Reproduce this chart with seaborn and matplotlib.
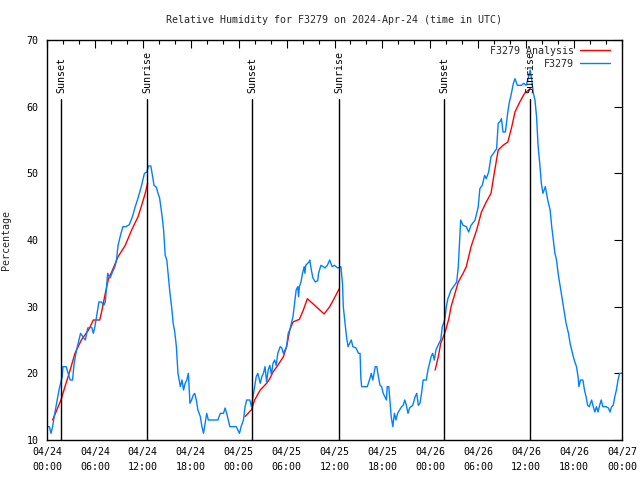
import matplotlib
matplotlib.use("Agg")
import matplotlib.pyplot as plt
import matplotlib.dates as mdates
from matplotlib.lines import Line2D
import numpy as np
import pandas as pd
import seaborn as sns

# ---------------- data (hours after 2024-04-24 00:00 UTC) ----------------
obs_hours = [0.0, 0.3, 0.5, 0.7, 0.9, 1.2, 1.5, 1.9, 2.0, 2.4, 2.9, 3.2, 3.4, 3.7, 4.0, 4.2, 4.6, 4.8,
             5.1, 5.6, 5.8, 6.0, 6.2, 6.5, 6.8, 7.1, 7.3, 7.6, 7.9, 8.2, 8.5, 8.7, 8.9, 9.2, 9.5, 9.9,
             10.3, 10.7, 11.0, 11.4, 11.8, 12.2, 12.5, 12.7, 13.0, 13.2, 13.4, 13.7, 13.9, 14.1, 14.4,
             14.6, 14.8, 15.0, 15.2, 15.4, 15.6, 15.8, 16.0, 16.2, 16.4, 16.7, 16.9, 17.1, 17.3, 17.5,
             17.7, 17.9, 18.1, 18.3, 18.5, 18.7, 18.9, 19.2, 19.4, 19.6, 19.8, 20.0, 20.2, 21.4, 21.7,
             22.1, 22.3, 22.5, 22.7, 22.9, 23.7, 23.9, 24.1, 24.3, 24.6, 24.8, 25.0, 25.4, 25.6, 25.8,
             26.0, 26.2, 26.4, 26.7, 26.9, 27.1, 27.3, 27.5, 27.7, 27.9, 28.1, 28.3, 28.5, 28.7, 28.9,
             29.2, 29.4, 29.6, 29.8, 30.0, 30.2, 30.4, 30.6, 30.8, 31.0, 31.2, 31.4, 31.5, 31.6, 31.8,
             32.0, 32.2, 32.3, 32.4, 32.8, 32.9, 33.1, 33.3, 33.6, 33.9, 34.0, 34.3, 34.6, 34.8, 35.1,
             35.4, 35.7, 36.0, 36.4, 36.8, 37.0, 37.1, 37.3, 37.5, 37.7, 37.9, 38.1, 38.3, 38.7, 39.0,
             39.2, 39.3, 39.4, 40.1, 40.3, 40.5, 40.6, 40.8, 41.1, 41.3, 41.5, 41.7, 41.9, 42.1, 42.3,
             42.5, 42.6, 42.8, 43.0, 43.1, 43.3, 43.5, 43.7, 43.9, 44.4, 44.6, 44.8, 45.0, 45.2, 45.4,
             45.6, 45.8, 46.1, 46.3, 46.5, 46.7, 46.9, 47.1, 47.5, 47.7, 47.9, 48.1, 48.3, 48.5, 48.7,
             49.0, 49.3, 49.5, 49.8, 50.0, 50.2, 50.6, 50.9, 51.3, 51.5, 51.7, 51.8, 52.1, 52.5, 52.8,
             53.1, 53.6, 54.0, 54.2, 54.5, 54.8, 55.0, 55.3, 55.6, 55.9, 56.3, 56.5, 56.7, 56.9, 57.1,
             57.4, 57.7, 57.9, 58.1, 58.4, 58.6, 58.9, 59.4, 59.7, 60.0, 60.3, 60.5, 60.7, 60.9, 61.1,
             61.3, 61.5, 61.7, 61.9, 62.1, 62.4, 62.7, 63.0, 63.2, 63.4, 63.6, 63.8, 64.0, 64.2, 64.4,
             64.6, 64.8, 65.0, 65.3, 65.5, 65.7, 65.9, 66.1, 66.3, 66.5, 66.6, 66.8, 67.1, 67.3, 67.5,
             67.7, 67.9, 68.2, 68.4, 68.6, 68.8, 69.0, 69.2, 69.4, 69.6, 70.0, 70.3, 70.5, 70.7, 70.9,
             71.1, 71.3, 71.5, 71.7, 72.0]
obs_rh = [12, 12, 11, 12, 13.5, 15.5, 17.5, 19.5, 21, 21, 19, 19, 21.5, 23.5, 25, 26, 25.3, 25,
          26.8, 26.9, 26, 27, 28.5, 30.7, 30.7, 30.2, 30.7, 35, 34.3, 35.2, 36, 37, 39.2, 40.7, 42, 42,
          42.3, 43.5, 44.8, 46.3, 48, 50, 50.2, 51.1, 51.1, 49.7, 48.2, 47.9, 47, 46.3, 43.7,
          41.5, 37.7, 37, 34.5, 32, 30, 27.5, 26.2, 24, 20, 18, 19, 17.5, 18.5, 19,
          20, 15.5, 16, 16.7, 17, 16, 14.5, 13.5, 12, 11, 12.5, 14, 13, 13, 14,
          14, 14.8, 14, 13, 12, 12, 11.5, 11, 12, 13, 15, 16, 16, 15, 16.5,
          18, 19.5, 20, 18.5, 19.5, 20, 21, 18.7, 20.5, 21.2, 19.8, 21.5, 22, 21.2, 23,
          24, 23.8, 23, 23.5, 24, 26, 26.5, 27.5, 28.5, 30.5, 32.5, 33, 31.5, 33, 33.7,
          35, 36, 35, 36.2, 36.7, 37, 35.5, 34.3, 33.7, 33.9, 35, 36.2, 36, 35.8, 36.2,
          37, 36, 36.2, 35.8, 36, 33.5, 30, 27.7, 25.5, 24, 24.5, 25, 24, 23.8, 23,
          23, 19.3, 18, 18, 18.7, 19.5, 20, 19, 21, 21, 19.5, 18.2, 18, 17, 16.5,
          16, 18, 18, 15, 13.5, 12, 14, 13, 14, 15, 15.2, 16, 15.2, 14, 14.8,
          15, 15.2, 16.5, 17, 15.2, 15.5, 17, 19, 19, 20.5, 21.5, 22.5, 23, 22, 23.5,
          24.3, 25, 27, 28, 30, 31.2, 32.5, 33, 33.7, 36, 40.5, 43, 42.2, 42, 41.2,
          42.2, 43, 45, 47.7, 48.2, 49.7, 49.2, 50.2, 52.5, 53, 53.7, 57.5, 57.7, 58.2, 56.2,
          56.2, 59.2, 60.7, 61.7, 63.5, 64.2, 63.2, 63.2, 63.5, 63.2, 64.5, 65.5, 64, 62, 61,
          58.5, 54, 51.5, 48.5, 47, 48, 46, 44.5, 42, 40, 38, 37, 35, 33.5, 32,
          30.5, 29, 27.5, 26, 24.5, 23.5, 22.5, 21.7, 21, 19.5, 18, 19, 19, 17.5, 16.5,
          15.2, 15, 16, 15, 14.2, 15, 14.2, 15.2, 16, 15, 15, 14.8, 14.2, 15, 15.2,
          16.5, 17.5, 19, 20, 20]

ana_hours = [0.7, 1.75, 2.25, 2.9, 3.5, 4.3, 5.2, 5.8, 6.6, 6.8, 7.3, 7.7, 8.1, 8.9, 9.8, 10.6, 11.4,
             11.8, 12.3, 12.6,
             24.8, 25.4, 25.6, 26.0, 26.7, 27.1, 27.5, 27.9, 28.3, 28.9, 29.6, 30.0, 30.4, 30.8, 31.6,
             32.1, 32.6, 33.7, 34.7, 35.4, 35.9, 36.6,
             48.6, 49.0, 49.3, 49.8, 50.3, 50.6, 51.5, 52.1, 52.5, 53.1, 53.8, 54.4, 55.0, 55.6, 56.0,
             56.5, 57.1, 57.7, 58.2, 58.6, 59.2, 59.8, 60.5]
ana_rh = [13, 16, 18, 20.5, 23, 25, 26.5, 28, 28, 29, 32, 34.2, 35.2, 37.5, 39.2, 41.5, 43.5,
          45, 47, 48.5,
          13.5, 14.3, 14.5, 16, 17.5, 18, 18.5, 19.2, 20.2, 21.2, 22.5, 24, 26.5, 27.7, 28.1,
          29.5, 31.2, 30, 28.9, 30, 31.1, 32.7,
          20.5, 22.5, 24.5, 26, 28.1, 30, 33.7, 35, 36, 39, 41.5, 44.2, 45.7, 47, 50,
          53.5, 54.2, 54.7, 57, 59.2, 60.7, 62, 62.7]
ana_run = [1] * 20 + [2] * 22 + [3] * 23

sun_hours = [1.75, 12.55, 25.7, 36.6, 49.7, 60.5]
sun_labels = ["Sunset", "Sunrise", "Sunset", "Sunrise", "Sunset", "Sunrise"]

series_names = ["F3279 Analysis", "F3279"]
title = "Relative Humidity for F3279 on 2024-Apr-24 (time in UTC)"
start = pd.Timestamp("2024-04-24 00:00")
end = pd.Timestamp("2024-04-27 00:00")

# ---------------- build frames ----------------
obs = pd.DataFrame({"time": start + pd.to_timedelta(obs_hours, unit="h"), "rh": obs_rh})
ana = pd.DataFrame({"time": start + pd.to_timedelta(ana_hours, unit="h"), "rh": ana_rh,
                    "run": ana_run})
sun_times = start + pd.to_timedelta(sun_hours, unit="h")

# ---------------- style ----------------
sns.set_style("white")
mono = ["DejaVu Sans Mono"]
plt.rcParams["font.family"] = mono
plt.rcParams["font.size"] = 7

RED = "#ff0000"
BLUE = "#0080ff"

fig = plt.figure(figsize=(6.4, 4.8), dpi=100)
ax = fig.add_axes([47 / 640, 40 / 480, 575 / 640, 400 / 480])

sns.lineplot(data=ana, x="time", y="rh", units="run", estimator=None, color=RED,
             linewidth=1.0, legend=False, ax=ax)
sns.lineplot(data=obs, x="time", y="rh", color=BLUE, linewidth=1.0, legend=False, ax=ax)

for t, lab in zip(sun_times, sun_labels):
    ax.axvline(t, ymin=0, ymax=0.8525, color="black", linewidth=1.0)
    ax.text(t, 0.8675, lab, rotation=90, ha="center", va="bottom",
            transform=ax.get_xaxis_transform(), fontsize=7.2, color="black")

ax.set_xlim(start, end)
ax.set_ylim(10, 70)
ax.set_yticks(np.arange(10, 71, 10))

ax.xaxis.set_major_locator(mdates.HourLocator(byhour=range(0, 24, 6)))
ax.xaxis.set_minor_locator(mdates.HourLocator(byhour=range(0, 24, 2)))
ax.xaxis.set_major_formatter(mdates.DateFormatter("%m/%d\n%H:%M"))

ax.tick_params(axis="both", which="both", direction="in", top=True, right=True,
               colors="black", labelsize=7.2, width=0.8)
ax.tick_params(axis="both", which="major", length=6)
ax.tick_params(axis="both", which="minor", length=3)
ax.tick_params(axis="x", which="major", pad=5)
ax.tick_params(axis="y", which="major", pad=6)

for sp in ax.spines.values():
    sp.set_color("black")
    sp.set_linewidth(1.0)

ax.set_xlabel("")
ax.set_ylabel("Percentage", fontsize=7.2)
ax.yaxis.set_label_coords(-0.062, 0.5)
ax.set_title(title, fontsize=7.2, pad=12.5)

handles = [Line2D([], [], color=RED, linewidth=1.0), Line2D([], [], color=BLUE, linewidth=1.0)]
ax.legend(handles, series_names, loc="upper right", frameon=False, markerfirst=False,
          fontsize=7.2, handlelength=3.0, handletextpad=0.6, labelspacing=0.3,
          borderaxespad=0.2, bbox_to_anchor=(0.99, 1.0))

fig.canvas.draw()
for lbl in ax.get_xticklabels():
    lbl.set_linespacing(1.6)

fig.savefig("out.png", dpi=100)
